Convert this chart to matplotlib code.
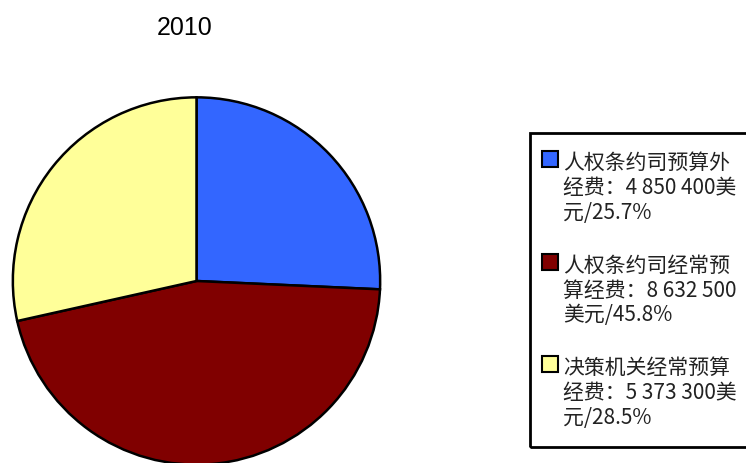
import matplotlib.pyplot as plt
from matplotlib.patches import Rectangle

plt.rcParams['font.family'] = ['Noto Sans CJK SC', 'DejaVu Sans']

title = '2010'
labels = ['人权条约司预算外经费', '人权条约司经常预算经费', '决策机关经常预算经费']
values = [4850400, 8632500, 5373300]
percents = [25.7, 45.8, 28.5]
colors = ['#3366FF', '#800000', '#FFFF99']

W, H = 746, 464
fig = plt.figure(figsize=(W / 100, H / 100), dpi=100)


def fx(px):
    return px / W


def fy(py):
    # py measured from top of image
    return 1 - py / H


# pie, centre (196.5, 282) px, radius 185.5 px
r = 185.5
ax = fig.add_axes([fx(196.5 - r), fy(282 + r), 2 * r / W, 2 * r / H])
ax.pie(values, colors=colors, startangle=90, counterclock=False,
       radius=1, wedgeprops={'edgecolor': 'black', 'linewidth': 1.8})
ax.set_xlim(-1.01, 1.01)
ax.set_ylim(-1.01, 1.01)
ax.set_aspect('equal')
ax.axis('off')

fig.text(fx(185), fy(28), title, ha='center', va='center',
         fontsize=18, family=['Liberation Sans', 'DejaVu Sans'])

# legend frame (runs off the right edge like the original)
frame = Rectangle((fx(530), fy(448)), fx(260), fy(134) - fy(448),
                  transform=fig.transFigure, fill=False,
                  edgecolor='black', linewidth=2)
fig.patches.append(frame)

for i, (lab, val, pct, col) in enumerate(zip(labels, values, percents, colors)):
    amount = f'{val:,}'.replace(',', ' ')
    full = f'{lab}：{amount}美元/{pct}%'
    lines = [full[:8], full[8:21], full[21:]]
    y0 = 163 + i * 102.5
    sq = Rectangle((fx(542), fy(y0 + 5)), fx(16), fy(y0 - 11) - fy(y0 + 5),
                   transform=fig.transFigure, facecolor=col,
                   edgecolor='black', linewidth=1.5)
    fig.patches.append(sq)
    for j, line in enumerate(lines):
        fig.text(fx(563), fy(y0 + j * 25), line, ha='left', va='center',
                 fontsize=15, color='#222222')

fig.savefig('out.png', dpi=100)
